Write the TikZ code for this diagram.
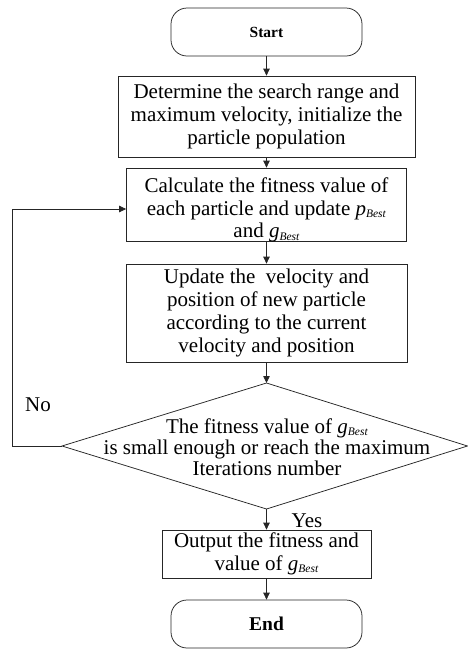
\documentclass[tikz,border=0pt]{standalone}
\usepackage{fontspec}
\setmainfont{Liberation Serif}
\usetikzlibrary{arrows.meta}
\newcommand{\bestof}[1]{\textit{#1}\raisebox{-0.25ex}{\fontsize{11.5}{11.5}\selectfont\textit{Best}}}
\begin{document}
\begin{tikzpicture}[x=1pt,y=-1pt,
  lw/.style={line width=0.75pt, draw=black!85},
  box/.style={lw, rectangle, inner sep=0pt, align=center,
    font=\fontsize{21}{22.8}\selectfont},
  term/.style={lw, rectangle, rounded corners=16pt, inner sep=0pt,
    minimum width=191pt, minimum height=48pt},
  txt/.style={inner sep=0pt, align=center, font=\fontsize{21}{22.8}\selectfont},
  arr/.style={lw, -{Triangle[length=7pt,width=6.5pt]}}
]
\useasboundingbox (0,0) rectangle (468,649);

\node[term, font=\bfseries\fontsize{15.5}{17}\selectfont] (start) at (266.5,32) {Start};
\node[box, minimum width=297pt, minimum height=81pt] (b1) at (266.5,116.5)
  {Determine the search range and\\maximum velocity, initialize the\\particle population};
\node[box, minimum width=280pt, minimum height=73pt] (b2) at (266.5,204.5) {};
\node[txt] (b2t) at (266.5,210) {Calculate the fitness value of\\each particle and update \bestof{p}\\and \bestof{g}};
\node[box, minimum width=281pt, minimum height=98pt] (b3) at (266.5,313)
  {Update the \ velocity and\\position of new particle\\according to the current\\velocity and position};

\coordinate (dt) at (266.5,383);
\coordinate (dl) at (62,446);
\coordinate (dr) at (467.5,446);
\coordinate (db) at (266.5,509);
\draw[lw] (dt) -- (dr) -- (db) -- (dl) -- cycle;
\node[txt, font=\fontsize{21}{20.8}\selectfont] (dtext) at (267,447)
  {The fitness value of \bestof{g}\\is small enough or reach the maximum\\Iterations number};

\node[box, minimum width=209pt, minimum height=48pt] (out) at (266.5,554)
  {Output the fitness and\\value of \bestof{g}};
\node[term, font=\bfseries\fontsize{19.5}{21}\selectfont] (end) at (266.5,624) {End};

\node[txt] (no) at (38,405) {No};
\node[txt] (yes) at (307,521) {Yes};

\draw[arr] (start.south) -- (b1.north);
\draw[arr] (b1.south) -- (b2.north);
\draw[arr] (b2.south) -- (b3.north);
\draw[arr] (b3.south) -- (dt);
\draw[arr] (db) -- (out.north);
\draw[arr] (out.south) -- (end.north);

\coordinate (lc1) at (12,446);
\coordinate (lc2) at (12,209);
\draw[arr] (dl) -- (lc1) -- (lc2) -- (b2.west |- lc2);
\end{tikzpicture}
\end{document}
